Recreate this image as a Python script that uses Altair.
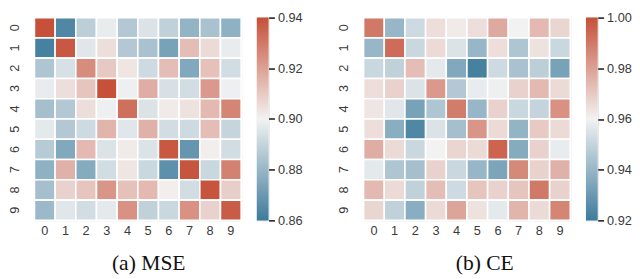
import altair as alt
import pandas as pd

labels = list(range(10))

mse = [
    [0.940, 0.864, 0.888, 0.898, 0.886, 0.895, 0.889, 0.879, 0.884, 0.878],
    [0.862, 0.938, 0.896, 0.905, 0.886, 0.884, 0.873, 0.913, 0.906, 0.898],
    [0.885, 0.894, 0.925, 0.910, 0.903, 0.892, 0.913, 0.875, 0.912, 0.893],
    [0.898, 0.905, 0.911, 0.940, 0.899, 0.917, 0.894, 0.893, 0.922, 0.899],
    [0.883, 0.886, 0.905, 0.899, 0.932, 0.895, 0.902, 0.904, 0.914, 0.927],
    [0.897, 0.886, 0.892, 0.915, 0.896, 0.916, 0.893, 0.892, 0.913, 0.890],
    [0.887, 0.875, 0.914, 0.895, 0.902, 0.895, 0.938, 0.869, 0.901, 0.893],
    [0.878, 0.916, 0.876, 0.893, 0.903, 0.891, 0.867, 0.939, 0.891, 0.928],
    [0.883, 0.908, 0.911, 0.923, 0.912, 0.914, 0.901, 0.893, 0.939, 0.909],
    [0.881, 0.896, 0.893, 0.897, 0.924, 0.889, 0.891, 0.924, 0.908, 0.937],
]

ce = [
    [0.990, 0.940, 0.952, 0.965, 0.962, 0.965, 0.978, 0.960, 0.974, 0.967],
    [0.940, 0.993, 0.951, 0.966, 0.955, 0.940, 0.965, 0.945, 0.964, 0.951],
    [0.951, 0.949, 0.973, 0.957, 0.935, 0.922, 0.952, 0.944, 0.948, 0.933],
    [0.965, 0.968, 0.955, 0.982, 0.946, 0.958, 0.959, 0.968, 0.974, 0.966],
    [0.963, 0.956, 0.933, 0.945, 0.989, 0.940, 0.968, 0.951, 0.950, 0.984],
    [0.965, 0.937, 0.924, 0.955, 0.943, 0.983, 0.966, 0.939, 0.970, 0.966],
    [0.977, 0.966, 0.951, 0.960, 0.967, 0.966, 0.995, 0.936, 0.968, 0.958],
    [0.957, 0.945, 0.943, 0.968, 0.951, 0.940, 0.934, 0.986, 0.968, 0.976],
    [0.974, 0.966, 0.949, 0.973, 0.952, 0.971, 0.968, 0.971, 0.990, 0.968],
    [0.967, 0.949, 0.937, 0.966, 0.979, 0.964, 0.957, 0.975, 0.966, 0.987],
]

mse_ticks = [0.86, 0.88, 0.90, 0.92, 0.94]
ce_ticks = [0.92, 0.94, 0.96, 0.98, 1.00]
captions = ["(a) MSE", "(b) CE"]

BLUE = "#3d7b9c"
MID = "#f2f2f2"
RED = "#c65038"
LABEL_FONT = "Liberation Sans"
LABEL_COLOR = "#3a3a3a"
HW, HH = 211, 207


def to_df(mat):
    rows = []
    for i, r in enumerate(mat):
        for j, v in enumerate(r):
            rows.append({"row": labels[i], "col": labels[j], "value": v})
    return pd.DataFrame(rows)


def panel(mat, ticks, caption, dx):
    lo, hi = ticks[0], ticks[-1]
    mid = (lo + hi) / 2
    scale = alt.Scale(domain=[lo, mid, hi], range=[BLUE, MID, RED], interpolate="rgb")
    heat = alt.Chart(to_df(mat)).mark_rect(stroke="white", strokeWidth=1.6).encode(
        x=alt.X("col:O", sort=labels,
                axis=alt.Axis(title=None, labelAngle=0, ticks=False, domain=False,
                              labelPadding=4, labelFontSize=13, labelFont=LABEL_FONT,
                              labelColor=LABEL_COLOR)),
        y=alt.Y("row:O", sort=labels,
                axis=alt.Axis(title=None, labelAngle=270, labelAlign="center",
                              labelBaseline="bottom", ticks=False, domain=False,
                              labelPadding=13, labelFontSize=13, labelFont=LABEL_FONT,
                              labelColor=LABEL_COLOR)),
        color=alt.Color("value:Q", scale=scale, legend=None),
    ).properties(width=HW, height=HH)

    cb_df = pd.DataFrame({"lo": [lo], "hi": [hi]})
    grad = alt.Gradient(
        gradient="linear",
        stops=[alt.GradientStop(color=BLUE, offset=0),
               alt.GradientStop(color=MID, offset=0.5),
               alt.GradientStop(color=RED, offset=1)],
        x1=1, x2=1, y1=1, y2=0,
    )
    cbar = alt.Chart(cb_df).mark_rect(color=grad).encode(
        x=alt.value(0), x2=alt.value(12),
        y=alt.Y("lo:Q", scale=alt.Scale(domain=[lo, hi], nice=False, zero=False),
                axis=alt.Axis(orient="right", values=ticks, format=".2f", title=None,
                              tickSize=6, tickWidth=1.6, tickColor="#222",
                              labelPadding=3, domain=False, grid=False,
                              labelFlush=False, labelOverlap=False,
                              labelFontSize=13, labelFont=LABEL_FONT,
                              labelColor=LABEL_COLOR)),
        y2="hi",
    ).properties(width=12, height=HH)

    return alt.hconcat(heat, cbar, spacing=13).resolve_scale(
        color="independent", x="independent", y="independent"
    ).properties(
        title=alt.TitleParams(caption, orient="bottom", anchor="middle", offset=16,
                              font="Liberation Serif", fontSize=22,
                              fontWeight="normal", color="#111", dx=dx)
    )


chart = alt.hconcat(
    panel(mse, mse_ticks, captions[0], -7),
    panel(ce, ce_ticks, captions[1], 0),
    spacing=35,
).resolve_scale(
    color="independent", x="independent", y="independent"
).properties(padding=0).configure_view(stroke=None).configure(background="white")

chart.save("out.html", embed_options={"renderer": "svg", "actions": False})
